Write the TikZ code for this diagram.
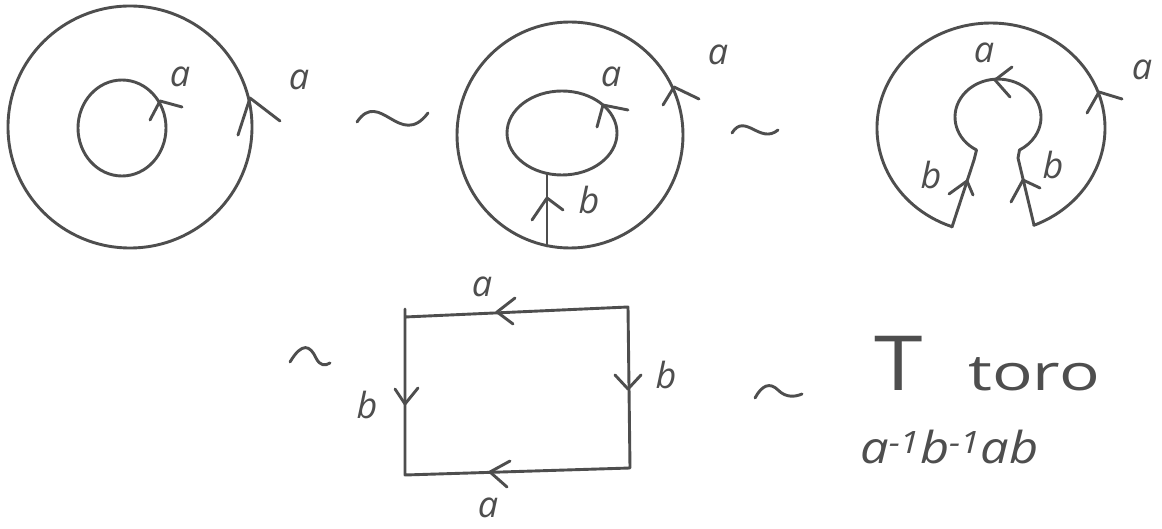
\documentclass[tikz,border=0pt]{standalone}
\usepackage{fontspec}
\setmainfont{Open Sans}
\definecolor{pencil}{RGB}{78,78,78}
\tikzset{
  pen/.style={draw=pencil, line width=2.9pt, line cap=round, line join=round},
  lbl/.style={text=pencil, font=\fontsize{36}{40}\selectfont\itshape, inner sep=0pt},
  big/.style={text=pencil, inner sep=0pt}
}
\begin{document}
\begin{tikzpicture}[x=1pt,y=-1pt]
\useasboundingbox[fill=white] (0,0) rectangle (1162,529);

% ---------- figure 1 ----------
\draw[pen] (130,127) ellipse[x radius=122, y radius=121];
\draw[pen] (122,128) ellipse[x radius=44, y radius=48];
\draw[pen] (150,120) -- (160,101) -- (182,107);
\draw[pen] (238,135) -- (250,98) -- (280,121);
\node[lbl] (f1ia) at (180,77) {a};
\node[lbl] (f1oa) at (299,80) {a};

% tilde 1
\draw[pen] (357,122) .. controls (380,88) and (400,150) .. (428,113);

% ---------- figure 2 ----------
\draw[pen] (570,135) ellipse[x radius=113, y radius=113];
\draw[pen] (562,133) ellipse[x radius=55, y radius=42];
\coordinate (f2bot) at (547,246);
\coordinate (f2in) at (547,173.5);
\draw[pen] (f2bot) -- (f2in);
\draw[pen] (532,220) -- (547,198) -- (563,210);
\draw[pen] (597,127) -- (603,105) -- (628,110);
\draw[pen] (663,105) -- (674,87) -- (699,99);
\node[lbl] (f2ia) at (611,77) {a};
\node[lbl] (f2oa) at (718,55) {a};
\node[lbl] (f2b) at (589,200) {b};

% tilde 2
\draw[pen] (732,133) .. controls (745,112) and (760,145) .. (778,130);

% ---------- figure 3 ----------
\draw[pen] (952,226.7) arc[start angle=110, end angle=428, x radius=114, y radius=105];
\draw[pen] (952,227) -- (974,160) -- (976.5,150)
  arc[start angle=120, end angle=420, x radius=43, y radius=38]
  -- (1018,158) -- (1034,225);
\draw[pen] (1012,67) -- (995,80) -- (1010,97);
\draw[pen] (1087,113) -- (1099,92) -- (1122,99);
\draw[pen] (949,194) -- (967,181) -- (973,195);
\draw[pen] (1011,202) -- (1023,180) -- (1040,188);
\node[lbl] (f3ia) at (984,53) {a};
\node[lbl] (f3oa) at (1142,70) {a};
\node[lbl] (f3lb) at (931,175) {b};
\node[lbl] (f3rb) at (1053,165) {b};

% ---------- rectangle ----------
\draw[pen] (405,309) -- (405,475) -- (630,468) -- (628,307) -- (405,317);
\draw[pen] (515,298) -- (497,312) -- (513,324);
\draw[pen] (510,461) -- (490,472) -- (507,487);
\draw[pen] (395,389) -- (405,404) -- (418,388);
\draw[pen] (615,375) -- (628,389) -- (641,375);
\node[lbl] (rta) at (482,287) {a};
\node[lbl] (rba) at (488,508) {a};
\node[lbl] (rlb) at (367,405) {b};
\node[lbl] (rrb) at (666,375) {b};

% tilde 3 and 4
\draw[pen] (290,362) .. controls (302,342) and (310,345) .. (316,358) .. controls (320,366) and (325,366) .. (330,363);
\draw[pen] (755,398) .. controls (762,385) and (770,382) .. (778,390) .. controls (786,398) and (795,397) .. (802,394);

% ---------- torus text ----------
\node[big, font=\fontsize{76}{80}\selectfont, anchor=base west, xscale=1.15, transform shape] (T) at (874,390) {T};
\node[big, font=\fontsize{50}{56}\selectfont, anchor=base west, xscale=1.35, transform shape] (toro) at (968,390) {toro};
\node[big, font=\fontsize{44}{50}\selectfont\itshape, anchor=base west, xscale=1.15, transform shape] (word) at (860,463) {a\textsuperscript{-1}b\textsuperscript{-1}ab};
\end{tikzpicture}
\end{document}
